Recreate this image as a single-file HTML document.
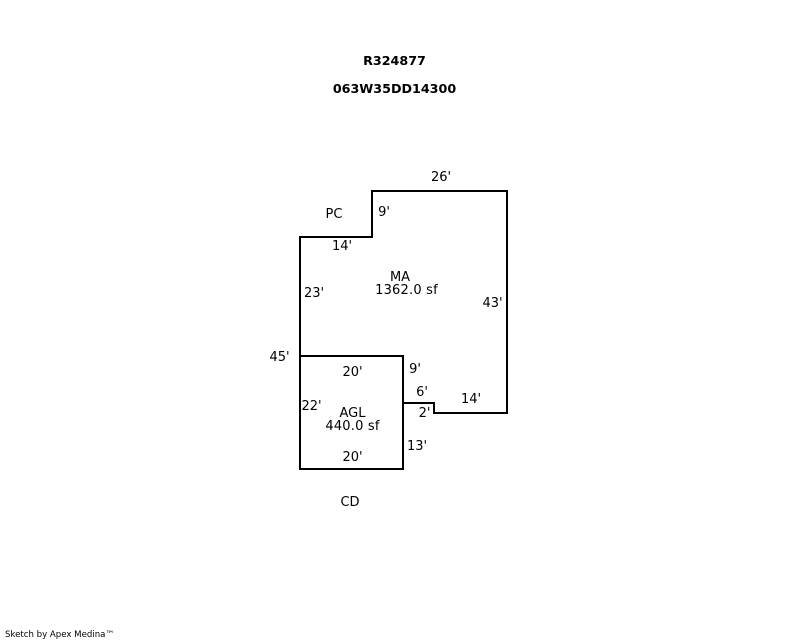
<!DOCTYPE html>
<html>
<head>
<meta charset="utf-8">
<style>
html,body{margin:0;padding:0;background:#fff;}
svg{display:block;}
text{font-family:"DejaVu Sans","Liberation Sans",sans-serif;font-size:13px;fill:#000;text-anchor:middle;}
.b{font-weight:bold;font-size:12.7px;}
.w{letter-spacing:.2px;}
</style>
</head>
<body>
<svg width="800" height="640" viewBox="0 0 800 640" xmlns="http://www.w3.org/2000/svg">
<rect width="800" height="640" fill="#fff"/>
<g fill="none" stroke="#000" stroke-width="2" shape-rendering="crispEdges">
<path d="M300 356V237H372V191H507V413H434V403H403"/>
<rect x="300" y="356" width="103" height="113"/>
</g>
<text class="b" x="394.500" y="65">R324877</text>
<text class="b" x="394.500" y="93">063W35DD14300</text>
<text x="441" y="181">26'</text>
<text x="334" y="218">PC</text>
<text x="384" y="216">9'</text>
<text x="342" y="250">14'</text>
<text x="400" y="281">MA</text>
<text class="w" x="406.500" y="294">1362.0 sf</text>
<text x="314" y="297">23'</text>
<text x="492.500" y="307">43'</text>
<text x="279.500" y="361">45'</text>
<text x="352.500" y="376">20'</text>
<text x="415" y="373">9'</text>
<text x="422" y="396">6'</text>
<text x="471" y="403">14'</text>
<text x="311.500" y="410">22'</text>
<text x="424.500" y="417">2'</text>
<text x="352.500" y="417">AGL</text>
<text class="w" x="352.500" y="430">440.0 sf</text>
<text x="417" y="450">13'</text>
<text x="352.500" y="461">20'</text>
<text x="350" y="506">CD</text>
<text x="59.500" y="637" style="font-size:8.6px">Sketch by Apex Medina™</text>
</svg>
</body>
</html>
